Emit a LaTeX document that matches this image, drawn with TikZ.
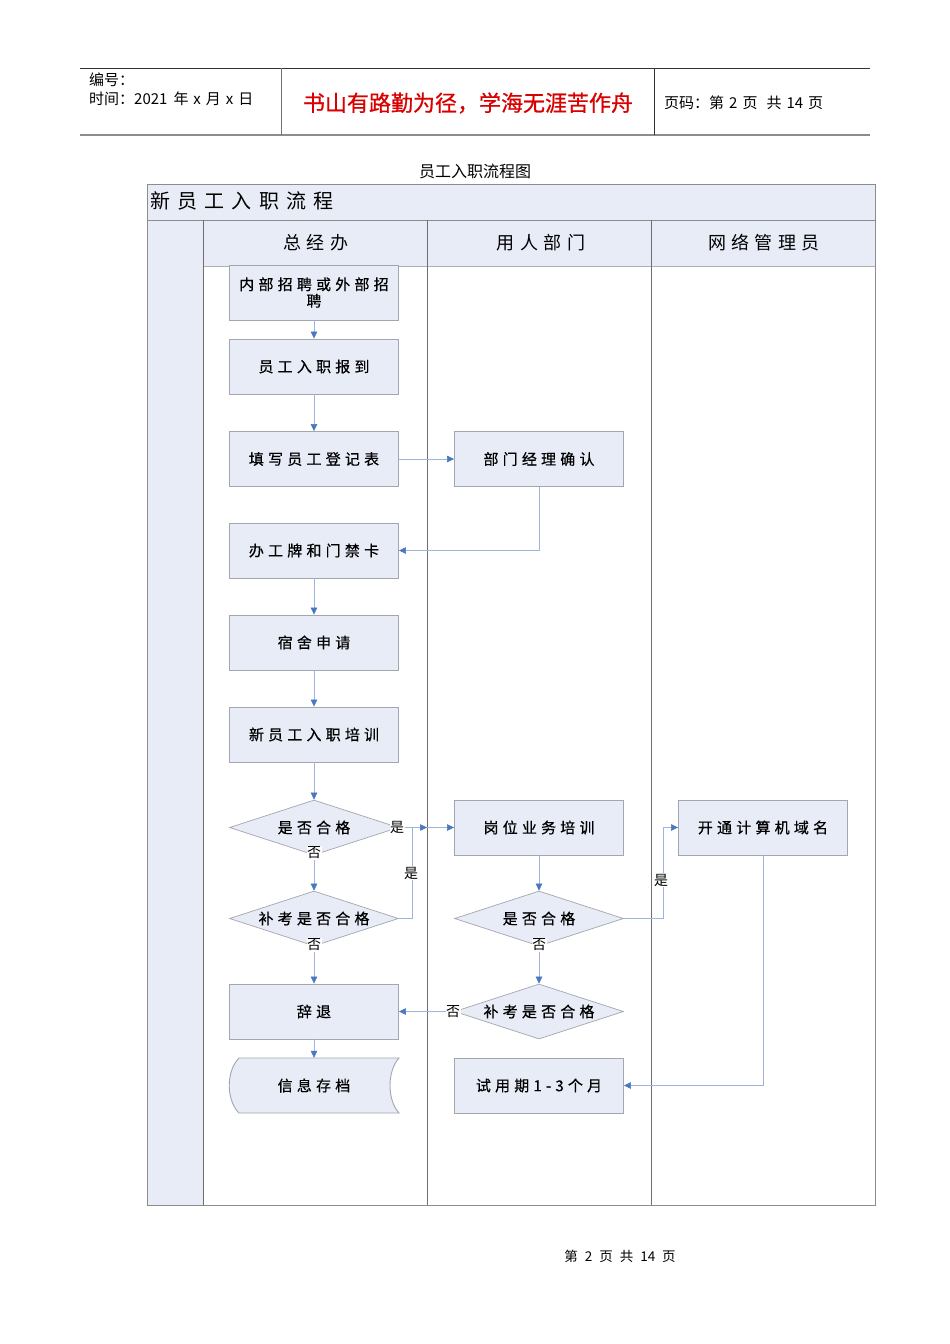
\documentclass[tikz,border=0pt]{standalone}
\usepackage{fontspec}
\setmainfont{Noto Sans CJK SC}
\newfontfamily\boxfont[LetterSpace=28,FakeBold=0.5]{Noto Sans CJK SC}
\newfontfamily\lanefont[LetterSpace=30]{Noto Sans CJK SC}
\newfontfamily\titlefont[LetterSpace=36]{Noto Sans CJK SC}
\newfontfamily\mottofont[FakeBold=0.8]{Noto Sans CJK SC}
\usetikzlibrary{arrows.meta,shapes.geometric}
\definecolor{boxfill}{HTML}{E8ECF6}
\definecolor{boxline}{HTML}{A3A6AE}
\definecolor{linecol}{HTML}{9DB5DD}
\definecolor{arrowcol}{HTML}{4A78C0}
\definecolor{lanecol}{HTML}{6E6E6E}
\definecolor{framecol}{HTML}{8C8C8C}
\begin{document}
\begin{tikzpicture}[x=1pt,y=-1pt,
  box/.style={draw=boxline, fill=boxfill, minimum width=169pt, minimum height=55pt, inner sep=2pt, text width=164pt, align=center, font=\boxfont\fontsize{15}{16.5}\selectfont, line width=0.9pt},
  dia/.style={diamond, draw=boxline, fill=boxfill, minimum width=169pt, minimum height=55pt, inner sep=0pt, aspect=3, font=\boxfont\fontsize{15}{16}\selectfont, line width=0.7pt},
  flow/.style={draw=linecol, line width=0.6pt, -{Triangle[length=7pt,width=6.5pt,color=arrowcol]}},
  lab/.style={font=\fontsize{14}{15}\selectfont, inner sep=0.5pt, fill=white},
  hdr/.style={font=\fontsize{15}{18}\selectfont, inner sep=0pt, anchor=west},
  lane/.style={font=\lanefont\fontsize{18}{20}\selectfont}
]
\useasboundingbox (0,0) rectangle (950,1344);
\fill[white] (0,0) rectangle (950,1344);

% page header
\draw[line width=0.8pt, black!80] (80,68) -- (870,68);
\draw[line width=1.6pt, black!45] (80,135) -- (870,135);
\draw[line width=0.8pt, black!55] (281,68) -- (281,135);
\draw[line width=0.8pt, black!80] (654,68) -- (654,135);
\node[hdr] (h1) at (89,80) {编号：};
\node[hdr] (h2) at (89,99) {时间：2021\hspace{6pt}年\hspace{5pt}x\hspace{5pt}月\hspace{5pt}x\hspace{5pt}日};
\node[font=\mottofont\fontsize{22}{26}\selectfont, text=red!85!black, inner sep=0pt] (motto) at (468,103) {书山有路勤为径，学海无涯苦作舟};
\node[hdr] (h3) at (664,103) {页码：第\hspace{5pt}2\hspace{5pt}页\hspace{9pt}共\hspace{5pt}14\hspace{5pt}页};

% caption
\node[font=\fontsize{16}{19}\selectfont, inner sep=0pt] (cap) at (475,171) {员工入职流程图};

% swimlane frame
\fill[boxfill] (147,184) rectangle (875,266);
\fill[boxfill] (147,220) rectangle (203,1205);
\draw[framecol, line width=0.8pt] (147,184) rectangle (875,1205);
\draw[framecol, line width=0.8pt] (147,220) -- (875,220);
\draw[framecol!70, line width=0.8pt] (203,266) -- (875,266);
\draw[lanecol, line width=0.9pt] (203,220) -- (203,1205);
\draw[lanecol, line width=0.9pt] (427,220) -- (427,1205);
\draw[lanecol, line width=0.9pt] (651,220) -- (651,1205);
\node[font=\titlefont\fontsize{20}{22}\selectfont, anchor=west, inner sep=0pt] (title) at (150,201) {新员工入职流程};
\node[lane] (l1) at (316,243) {总经办};
\node[lane] (l2) at (541,243) {用人部门};
\node[lane] (l3) at (764,243) {网络管理员};

% nodes
\node[box] (n1) at (314,292.5) {内部招聘或外部招\\聘};
\node[box] (n2) at (314,366.5) {员工入职报到};
\node[box] (n3) at (314,459) {填写员工登记表};
\node[box] (n4) at (539,459) {部门经理确认};
\node[box] (n5) at (314,550.5) {办工牌和门禁卡};
\node[box] (n6) at (314,642.5) {宿舍申请};
\node[box] (n7) at (314,734.5) {新员工入职培训};
\node[dia] (d1) at (314,827.5) {是否合格};
\node[box] (n8) at (539,827.5) {岗位业务培训};
\node[box] (n9) at (763,827.5) {开通计算机域名};
\node[dia] (d2) at (314,918.5) {补考是否合格};
\node[dia] (d3) at (539,918.5) {是否合格};
\node[box] (n10) at (314,1011.5) {辞退};
\node[dia] (d4) at (539,1011.5) {补考是否合格};
\node[box] (n12) at (539,1085.5) {试用期1-3个月};
% stored data shape
\filldraw[fill=boxfill, draw=boxline, line width=0.9pt]
  (239,1058) -- (399,1058) .. controls (387,1071) and (387,1100) .. (399,1113)
  -- (239,1113) .. controls (226,1100) and (226,1071) .. (239,1058) -- cycle;
\node[minimum width=169pt, minimum height=55pt, inner sep=0pt, font=\boxfont\fontsize{15}{16}\selectfont] (n11) at (314,1085.5) {信息存档};

% connectors
\draw[flow] (n1) -- (n2);
\draw[flow] (n2) -- (n3);
\draw[flow] (n3) -- (n4);
\draw[flow] (n4.south) |- (n5.east);
\draw[flow] (n5) -- (n6);
\draw[flow] (n6) -- (n7);
\draw[flow] (n7) -- (d1);
\draw[flow] (d1.east) -- (n8.west);
\draw[flow] (d1) -- (d2);
\coordinate (j) at (427,827.5);
\draw[flow] (d2.east) -- ++(13,0) |- (j);
\draw[flow] (d2) -- (n10);
\draw[flow] (n10) -- (n11.north);
\draw[flow] (n8) -- (d3);
\draw[flow] (d3.east) -- ++(39,0) |- (n9.west);
\draw[flow] (d3) -- (d4);
\draw[flow] (d4.west) -- (n10.east);
\draw[flow] (n9.south) |- (n12.east);

% labels
\node[lab] (y1) at (397,827.5) {是};
\node[lab] (y2) at (411,873) {是};
\node[lab] (y3) at (661,880) {是};
\node[lab] (no1) at (314,853) {否};
\node[lab] (no2) at (314,945) {否};
\node[lab] (no3) at (539,945) {否};
\node[lab] (no4) at (453,1011.5) {否};

% footer
\node[font=\fontsize{13.5}{16}\selectfont, inner sep=0pt] (foot) at (620,1256) {第\hspace{7pt}2\hspace{7pt}页\hspace{7pt}共\hspace{7pt}14\hspace{7pt}页};
\end{tikzpicture}
\end{document}
